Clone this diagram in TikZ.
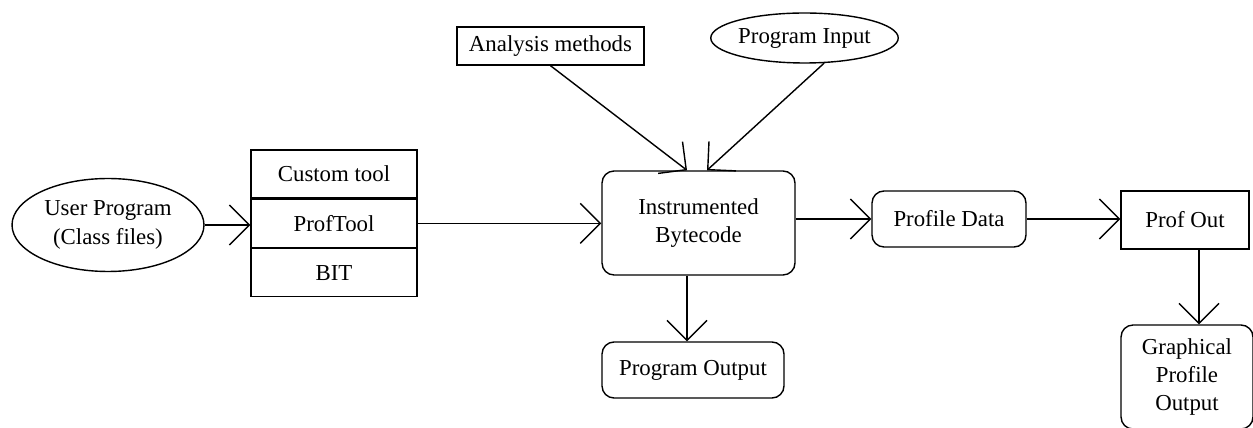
\documentclass[tikz,border=0pt]{standalone}
\usepackage{fontspec}
\setmainfont{Liberation Serif}
\usetikzlibrary{positioning,shapes.geometric,arrows.meta}

\begin{document}
\begin{tikzpicture}[x=0.02cm, y=-0.02cm,
    every node/.style={font=\fontsize{13}{16}\selectfont, inner sep=0pt, align=center},
    rbox/.style={draw, rounded corners=0.24cm, line width=0.8pt},
    sbox/.style={draw, line width=0.8pt},
    oval/.style={draw, ellipse, line width=0.8pt},
    toolrow/.style={draw, line width=0.8pt, minimum width=3.32cm, minimum height=0.96cm},
    flow/.style={line width=0.8pt, -{Straight Barb[length=0.4cm, width=0.8cm, line width=0.8pt]}}]

    \useasboundingbox (0,0) rectangle (1253,428);

    % -- Eingabe --
    \node[oval, minimum width=3.84cm, minimum height=1.86cm] (user) at (108,225) {User Program\\(Class files)};

    % -- Werkzeug-Stapel --
    \node[toolrow] (custom) at (334,174) {Custom tool};
    \node[toolrow, below=0pt of custom] (proftool) {ProfTool};
    \node[toolrow, below=0pt of proftool] (bit) {BIT};

    % -- obere Eingaben --
    \node[sbox, minimum width=3.74cm, minimum height=0.76cm] (analysis) at (550.5,46) {Analysis methods};
    \node[oval, minimum width=3.1cm, minimum height=1cm] (input) at (804.5,38) {Program Input};

    % -- Mitte --
    \node[rbox, minimum width=3.86cm, minimum height=2.08cm] (instr) at (698.5,223) {Instrumented\\Bytecode};
    \node[rbox, minimum width=3.64cm, minimum height=1.12cm] (progout) at (693,370) {Program Output};

    % -- rechts --
    \node[rbox, minimum width=3.08cm, minimum height=1.12cm] (profdata) at (949,219) {Profile Data};
    \node[sbox, minimum width=2.56cm, minimum height=1.16cm] (profout) at (1185,220) {Prof Out};
    \node[rbox, minimum width=2.64cm, minimum height=2.08cm] (graph) at (1187,377) {Graphical\\Profile\\Output};

    % -- Pfeile --
    \draw[flow] (user.east) -- (user.east -| proftool.west);
    \draw[flow] (proftool.east) -- (proftool.east -| instr.west);
    \draw[flow] (analysis.south) -- ([xshift=-0.23cm]instr.north);
    \draw[flow] (input.-52) -- ([xshift=0.17cm]instr.north);
    \draw[flow] ([xshift=-0.23cm]instr.south) -- ([xshift=-0.23cm]instr.south |- progout.north);
    \draw[flow] (instr.east |- profdata.west) -- (profdata.west);
    \draw[flow] (profdata.east) -- (profdata.east -| profout.west);
    \draw[flow] ([xshift=0.28cm]profout.south) -- ([xshift=0.28cm]profout.south |- graph.north);
\end{tikzpicture}
\end{document}
